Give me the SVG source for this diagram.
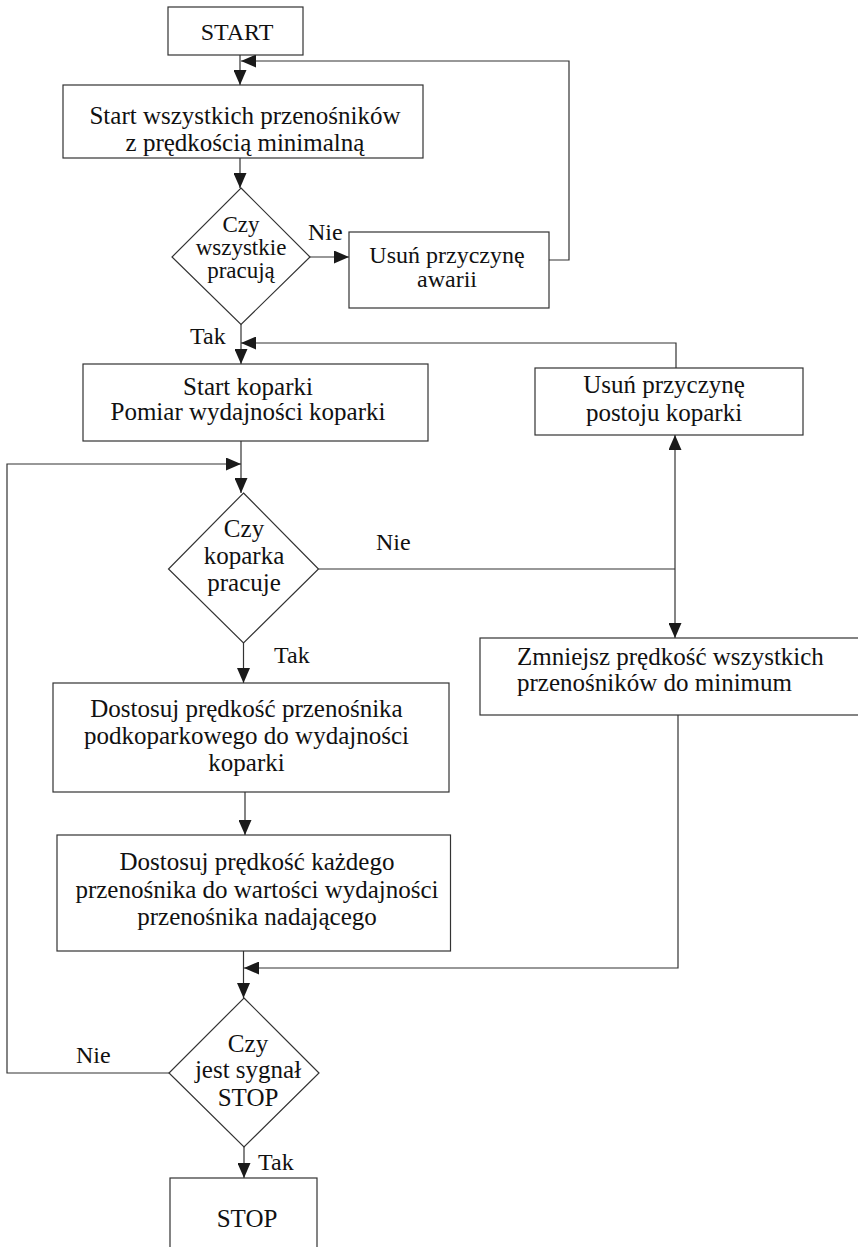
<svg xmlns="http://www.w3.org/2000/svg" width="858" height="1247" viewBox="0 0 858 1247">
<style>
.box{fill:#fff;stroke:#333;stroke-width:1.2}
.ln{fill:none;stroke:#333;stroke-width:1.2}
text{font-family:'Liberation Serif','Tinos','Times New Roman','DejaVu Serif',serif;font-size:25px;fill:#111}
.c{text-anchor:middle}
.s{font-size:23px}
.l{font-size:24px}
</style>
<defs>
<marker id="ah" markerUnits="userSpaceOnUse" markerWidth="15" markerHeight="13" refX="15" refY="6.5" orient="auto">
<path d="M0,0 L15,6.5 L0,13 z" fill="#1a1a1a"/>
</marker>
</defs>
<rect width="858" height="1247" fill="#fff"/>
<g font-family="Liberation Serif, Times New Roman, DejaVu Serif, serif">
<g id="connectors">
<path class="ln" d="M240,55 V85" marker-end="url(#ah)"/>
<path class="ln" d="M549,260 H569 V61 H241" marker-end="url(#ah)"/>
<path class="ln" d="M240,158 V188" marker-end="url(#ah)"/>
<path class="ln" d="M310,257 H349" marker-end="url(#ah)"/>
<path class="ln" d="M241,324 V364" marker-end="url(#ah)"/>
<path class="ln" d="M676,368 V343 H241" marker-end="url(#ah)"/>
<path class="ln" d="M241,441 V493" marker-end="url(#ah)"/>
<path class="ln" d="M169,1073 H7 V464 H241" marker-end="url(#ah)"/>
<path class="ln" d="M318.5,569 H675"/>
<path class="ln" d="M675,569 V435" marker-end="url(#ah)"/>
<path class="ln" d="M675,569 V638" marker-end="url(#ah)"/>
<path class="ln" d="M243.5,643 V683" marker-end="url(#ah)"/>
<path class="ln" d="M245,792 V835" marker-end="url(#ah)"/>
<path class="ln" d="M243.5,951 V998" marker-end="url(#ah)"/>
<path class="ln" d="M678,715 V968 H244" marker-end="url(#ah)"/>
<path class="ln" d="M244,1147 V1178" marker-end="url(#ah)"/>
<text class="l" x="308" y="240">Nie</text>
<text class="l" x="190" y="344">Tak</text>
<text class="l" x="376" y="550">Nie</text>
<text class="l" x="274" y="663">Tak</text>
<text class="l" x="76" y="1063">Nie</text>
<text class="l" x="258" y="1170">Tak</text>
</g>
<g id="start">
<rect class="box" x="168" y="7" width="135" height="48"/>
<text class="c l" x="237" y="40">START</text>
</g>
<g id="start-conveyors">
<rect class="box" x="63" y="85" width="360" height="73"/>
<text class="c" x="245" y="124">Start wszystkich przenośników</text>
<text class="c" x="245" y="151">z prędkością minimalną</text>
</g>
<g id="decision-all-running">
<polygon class="box" points="241,188 310,257 241,324.5 172,257"/>
<text class="c s" x="241" y="232">Czy</text>
<text class="c s" x="241" y="255">wszystkie</text>
<text class="c s" x="241" y="278">pracują</text>
</g>
<g id="remove-failure">
<rect class="box" x="349" y="232" width="200" height="76"/>
<text class="c l" x="447" y="263">Usuń przyczynę</text>
<text class="c l" x="447" y="287">awarii</text>
</g>
<g id="start-excavator">
<rect class="box" x="83" y="364" width="345" height="77"/>
<text class="c" x="248" y="395">Start koparki</text>
<text class="c" x="248" y="420">Pomiar wydajności koparki</text>
</g>
<g id="remove-stoppage">
<rect class="box" x="535" y="368" width="268" height="67"/>
<text class="c" x="664" y="393">Usuń przyczynę</text>
<text class="c" x="664" y="421">postoju koparki</text>
</g>
<g id="decision-excavator">
<polygon class="box" points="243.5,493 318.5,569 243.5,643 168.5,569"/>
<text class="c" x="244" y="537">Czy</text>
<text class="c" x="244" y="564">koparka</text>
<text class="c" x="244" y="591">pracuje</text>
</g>
<g id="reduce-speed">
<rect class="box" x="480" y="638" width="400" height="77"/>
<text x="517" y="665">Zmniejsz prędkość wszystkich</text>
<text x="517" y="691">przenośników do minimum</text>
</g>
<g id="adjust-under">
<rect class="box" x="53" y="683" width="396" height="109"/>
<text class="c" x="246.5" y="717">Dostosuj prędkość przenośnika</text>
<text class="c" x="246.5" y="744">podkoparkowego do wydajności</text>
<text class="c" x="246.5" y="771">koparki</text>
</g>
<g id="adjust-each">
<rect class="box" x="57" y="835" width="393.5" height="116"/>
<text class="c" x="257" y="870">Dostosuj prędkość każdego</text>
<text class="c" x="257" y="898">przenośnika do wartości wydajności</text>
<text class="c" x="257" y="925">przenośnika nadającego</text>
</g>
<g id="decision-stop">
<polygon class="box" points="244,998 319,1073 244,1147 169,1073"/>
<text class="c" x="248" y="1052">Czy</text>
<text class="c" x="248" y="1078">jest sygnał</text>
<text class="c" x="248" y="1106">STOP</text>
</g>
<g id="stop">
<rect class="box" x="170" y="1178" width="147" height="100"/>
<text class="c" x="247" y="1227">STOP</text>
</g>
</g>
</svg>
